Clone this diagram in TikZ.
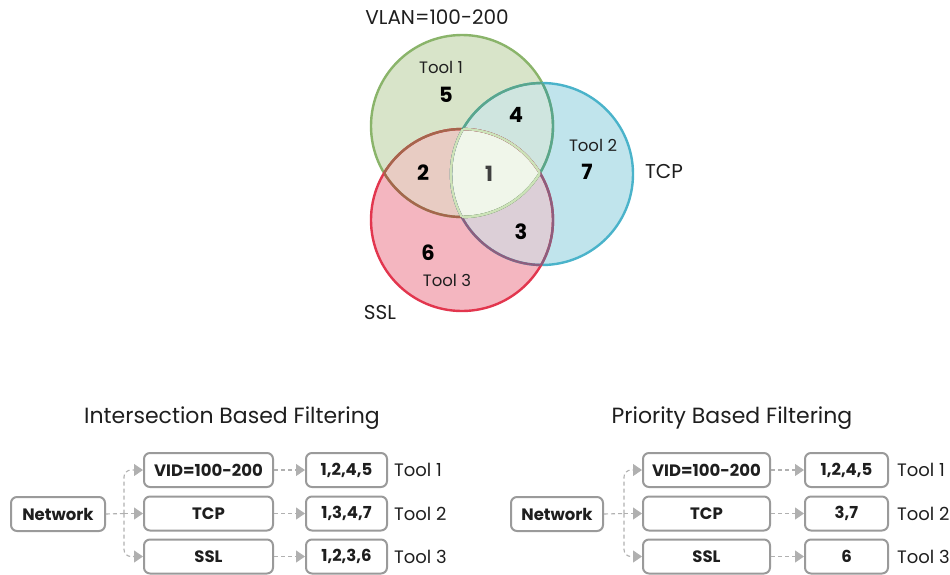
\documentclass[tikz,border=0pt]{standalone}
\usepackage{fontspec}
\setmainfont{Poppins}
\usetikzlibrary{arrows.meta}
\definecolor{gfill}{HTML}{D8E4C9}
\definecolor{bfill}{HTML}{C0E4EC}
\definecolor{rfill}{HTML}{F4B6C0}
\definecolor{grfill}{HTML}{E8CCC3}
\definecolor{gbfill}{HTML}{CFE5DF}
\definecolor{brfill}{HTML}{DCCFD7}
\definecolor{tfill}{HTML}{F0F6EA}
\definecolor{gline}{HTML}{8AB46A}
\definecolor{bline}{HTML}{4AB3CA}
\definecolor{rline}{HTML}{E2364E}
\definecolor{grline}{HTML}{A5664C}
\definecolor{gbline}{HTML}{5AA68C}
\definecolor{brline}{HTML}{8D5E7E}
\definecolor{tline}{HTML}{CDE3B8}
\definecolor{boxline}{HTML}{9A9A9A}
\definecolor{arrowc}{HTML}{B0B0B0}
\definecolor{txt}{HTML}{1E1E1E}
\newcommand\vennG{(462,126) circle[radius=91pt]}
\newcommand\vennB{(542,174) circle[radius=91pt]}
\newcommand\vennR{(462,220) circle[radius=91pt]}
\begin{document}
\begin{tikzpicture}[x=1pt,y=-1pt,
  ring/.style={line width=2.4pt},
  lbl/.style={font=\fontsize{20}{22}\selectfont, text=txt},
  toollbl/.style={font=\fontsize{16.5}{18}\selectfont, text=txt},
  num/.style={font=\bfseries\fontsize{21}{23}\selectfont, text=black},
  title/.style={font=\fontsize{22}{24}\selectfont, text=txt},
  fbox/.style={draw=boxline, line width=2pt, rounded corners=6pt, minimum height=34pt, inner sep=0pt, font=\bfseries\fontsize{16.5}{18}\selectfont, text=txt},
  filt/.style={fbox, minimum width=129pt},
  res/.style={fbox, minimum width=81pt},
  netbox/.style={fbox, minimum width=94pt},
  toolname/.style={anchor=west, font=\fontsize{18}{20}\selectfont, text=txt, inner sep=0pt},
  dashline/.style={draw=arrowc, line width=1.1pt, dash pattern=on 4pt off 3pt},
  dasharrow/.style={dashline, -{Triangle[length=9pt,width=12pt]}, rounded corners=7pt}
]
\useasboundingbox (0,0) rectangle (950,574);
% ---------- Venn diagram ----------
\fill[gfill] \vennG; \fill[bfill] \vennB; \fill[rfill] \vennR;
\begin{scope}\clip \vennG; \fill[grfill] \vennR; \fill[gbfill] \vennB; \end{scope}
\begin{scope}\clip \vennB; \fill[brfill] \vennR; \end{scope}
\begin{scope}\clip \vennG; \clip \vennB; \fill[tfill] \vennR; \end{scope}
\draw[ring, gline] \vennG; \draw[ring, bline] \vennB; \draw[ring, rline] \vennR;
\begin{scope}\clip \vennG; \draw[ring, grline] \vennR; \draw[ring, gbline] \vennB; \end{scope}
\begin{scope}\clip \vennR; \draw[ring, grline] \vennG; \draw[ring, brline] \vennB; \end{scope}
\begin{scope}\clip \vennB; \draw[ring, gbline] \vennG; \draw[ring, brline] \vennR; \end{scope}
\begin{scope}\clip \vennG; \clip \vennB; \draw[ring, tline] \vennR; \end{scope}
\begin{scope}\clip \vennG; \clip \vennR; \draw[ring, tline] \vennB; \end{scope}
\begin{scope}\clip \vennB; \clip \vennR; \draw[ring, tline] \vennG; \end{scope}
\node[lbl] (vlan) at (437,17) {VLAN=100-200};
\node[lbl] (tcpl) at (664,171) {TCP};
\node[lbl] (ssll) at (380,313) {SSL};
\node[toollbl] (t1) at (441,67) {Tool 1};
\node[toollbl] (t2) at (593,145) {Tool 2};
\node[toollbl] (t3) at (447,280) {Tool 3};
\node[num] (n5) at (446,95) {5};
\node[num] (n4) at (516,115) {4};
\node[num] (n7) at (587,172) {7};
\node[num] (n2) at (423,173) {2};
\node[num, text=black!75] (n1) at (489,174) {1};
\node[num] (n3) at (521,232) {3};
\node[num] (n6) at (428,253) {6};
% ---------- Intersection based filtering ----------
\node[title] (titleL) at (232,418) {Intersection Based Filtering};
\node[netbox] (netL) at (58,514) {Network};
\node[filt] (vidL) at (208.5,470) {VID=100-200};
\node[filt] (tcpL) at (208.5,513.5) {TCP};
\node[filt] (sslL) at (208.5,556.5) {SSL};
\node[res] (r1L) at (346.5,470) {1,2,4,5};
\node[res] (r2L) at (346.5,513.5) {1,3,4,7};
\node[res] (r3L) at (346.5,556.5) {1,2,3,6};
\node[toolname] (o1L) at (394,470) {Tool 1};
\node[toolname] (o2L) at (394,513.5) {Tool 2};
\node[toolname] (o3L) at (394,556.5) {Tool 3};
\coordinate (jL) at (124,513.5);
\draw[dashline] (netL.east) -- (jL);
\draw[dasharrow] (jL) |- (vidL.west);
\draw[dasharrow] (jL) -- (tcpL.west);
\draw[dasharrow] (jL) |- (sslL.west);
\draw[dasharrow] (vidL.east) -- (r1L.west);
\draw[dasharrow] (tcpL.east) -- (r2L.west);
\draw[dasharrow] (sslL.east) -- (r3L.west);
% ---------- Priority based filtering ----------
\node[title] (titleR) at (732,418) {Priority Based Filtering};
\node[netbox, minimum width=92pt] (netR) at (557,514) {Network};
\node[filt, minimum width=127pt] (vidR) at (706.5,470) {VID=100-200};
\node[filt, minimum width=127pt] (tcpR) at (706.5,513.5) {TCP};
\node[filt, minimum width=127pt] (sslR) at (706.5,556.5) {SSL};
\node[res, minimum width=83pt] (r1R) at (846.5,470) {1,2,4,5};
\node[res, minimum width=83pt] (r2R) at (846.5,513.5) {3,7};
\node[res, minimum width=83pt] (r3R) at (846.5,556.5) {6};
\node[toolname] (o1R) at (897,470) {Tool 1};
\node[toolname] (o2R) at (897,513.5) {Tool 2};
\node[toolname] (o3R) at (897,556.5) {Tool 3};
\coordinate (jR) at (624,513.5);
\draw[dashline] (netR.east) -- (jR);
\draw[dasharrow] (jR) |- (vidR.west);
\draw[dasharrow] (jR) -- (tcpR.west);
\draw[dasharrow] (jR) |- (sslR.west);
\draw[dasharrow] (vidR.east) -- (r1R.west);
\draw[dasharrow] (tcpR.east) -- (r2R.west);
\draw[dasharrow] (sslR.east) -- (r3R.west);
\end{tikzpicture}
\end{document}
